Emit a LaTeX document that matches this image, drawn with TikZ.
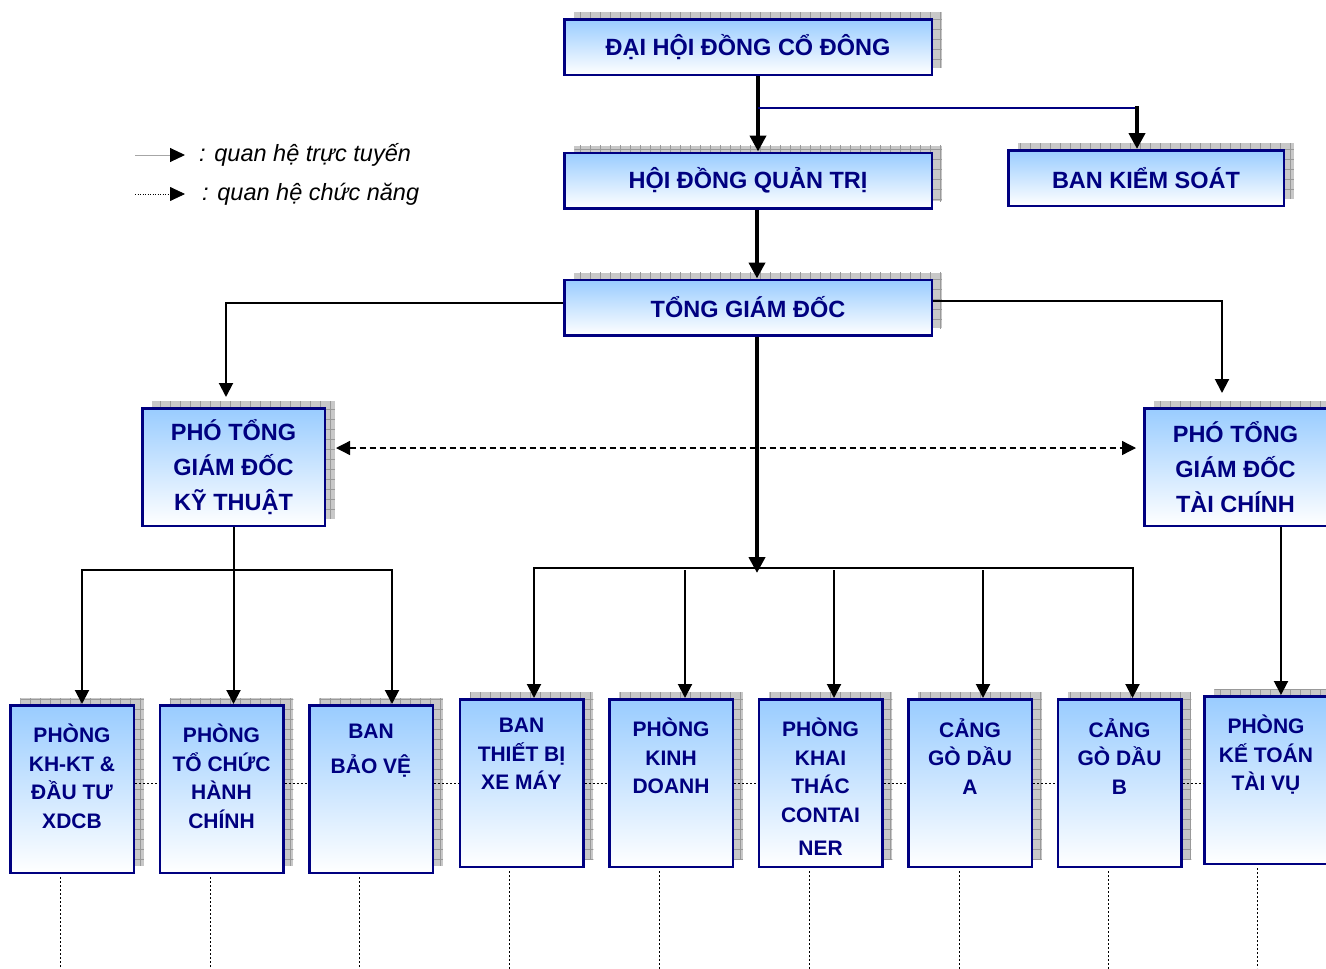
\documentclass[tikz,border=0pt]{standalone}
\usepackage{fontspec}
\setmainfont{Liberation Sans}
\usepackage{xcolor}
\usepackage{tikz}
\usetikzlibrary{positioning}
\usetikzlibrary{arrows.meta}
\usetikzlibrary{shadows}
\usetikzlibrary{patterns.meta}

\definecolor{boxnavy}{HTML}{000080}
\definecolor{boxblue}{HTML}{99CCFF}
\definecolor{shadowgray}{HTML}{C8C8C8}
\definecolor{gridgray}{HTML}{999999}

\begin{document}
\begin{tikzpicture}[x=1pt, y=1pt,
  box/.style={draw=boxnavy, line width=2.5pt, top color=boxblue, bottom color=white, text=boxnavy, align=center, inner sep=0pt,
    font=\bfseries\fontsize{23.5}{35}\selectfont,
    general shadow={shadow xshift=10pt, shadow yshift=7pt, fill=shadowgray},
    general shadow={shadow xshift=10pt, shadow yshift=7pt, pattern={Hatch[angle=0, distance=10pt, line width=0.7pt]}, pattern color=gridgray}},
  wide box/.style={box, minimum width=367.5pt, minimum height=55.5pt},
  chief box/.style={box, minimum width=182.5pt, minimum height=117.5pt},
  dept box/.style={box, minimum width=123.5pt, minimum height=167.5pt},
  dept text/.style={anchor=north, yshift=-20pt, inner sep=0pt, align=center, text=boxnavy,
    font=\bfseries\fontsize{21}{28.5}\selectfont, execute at begin node={\rule{0pt}{20pt}}},
  key text/.style={anchor=west, inner sep=0pt, font=\itshape\fontsize{23.5}{27}\selectfont},
  main arrow/.style={line width=4.5pt, -{Triangle[length=16pt, width=16pt]}},
  link/.style={line width=2pt, -{Triangle[length=14pt, width=14pt]}},
  navy line/.style={draw=boxnavy, line width=2.5pt},
  func line/.style={line width=0.8pt, dash pattern=on 2pt off 2pt},
  func arrow/.style={line width=1.3pt, dash pattern=on 6pt off 4pt, {Triangle[length=14pt, width=14pt]}-{Triangle[length=14pt, width=14pt]}},
  key line/.style={draw=gray!70, line width=1pt, -{Triangle[length=15pt, width=14pt, color=black]}},
  key dots/.style={line width=0.8pt, dash pattern=on 1pt off 1.5pt, -{Triangle[length=15pt, width=14pt, sep=0pt]}}]

\path [use as bounding box, fill=white] (0,0) rectangle (1326,-969);

\coordinate (solid start) at (135,-155);
\node (solid key) [key text] at (199,-155) {: quan hệ trực tuyến};
\coordinate (dotted start) at (135,-194);
\node (dotted key) [key text] at (202,-194) {: quan hệ chức năng};

\node (dai hoi) [wide box] at (748,-47) {ĐẠI HỘI ĐỒNG CỔ ĐÔNG};
\node (hoi dong) [wide box, below of=dai hoi, node distance=133.5pt] {HỘI ĐỒNG QUẢN TRỊ};
\node (kiem soat) [box, minimum width=275.5pt, minimum height=55.5pt] at (1146,-178) {BAN KIỂM SOÁT};
\node (tong gd) [wide box, below of=hoi dong, node distance=127pt] {TỔNG GIÁM ĐỐC};

\node (pho kt) [chief box] at (233.5,-467) {PHÓ TỔNG\\GIÁM ĐỐC\\KỸ THUẬT};
\node (pho tc) [chief box, right of=pho kt, node distance=1002pt] {PHÓ TỔNG\\GIÁM ĐỐC\\TÀI CHÍNH};

\node (kh kt) [dept box, label={[dept text]north:{PHÒNG\\KH-KT \&\\ĐẦU TƯ\\XDCB}}] at (72,-789) {};
\node (to chuc) [dept box, right of=kh kt, node distance=149.5pt, label={[dept text]north:{PHÒNG\\TỔ CHỨC\\HÀNH\\CHÍNH}}] {};
\node (bao ve) [dept box, right of=to chuc, node distance=149.5pt, label={[dept text]north:{BAN\\[6pt]BẢO VỆ}}] {};
\node (thiet bi) [dept box, label={[dept text]north:{BAN\\THIẾT BỊ\\XE MÁY}}] at (521.5,-783) {};
\node (kinh doanh) [dept box, right of=thiet bi, node distance=149.5pt, label={[dept text]north:{PHÒNG\\KINH\\DOANH}}] {};
\node (khai thac) [dept box, right of=kinh doanh, node distance=149.5pt, label={[dept text]north:{PHÒNG\\KHAI\\THÁC\\CONTAI\\[5pt]NER}}] {};
\node (cang a) [dept box, right of=khai thac, node distance=149.5pt, label={[dept text]north:{CẢNG\\GÒ DẦU\\A}}] {};
\node (cang b) [dept box, right of=cang a, node distance=149.5pt, label={[dept text]north:{CẢNG\\GÒ DẦU\\B}}] {};
\node (ke toan) [dept box, label={[dept text]north:{PHÒNG\\KẾ TOÁN\\TÀI VỤ}}] at (1266,-780) {};

\draw [key line] (solid start) -- ([xshift=-14pt]solid key.west);
\draw [key dots] (dotted start) -- ([xshift=-17pt]dotted key.west);

\draw [main arrow] ([xshift=10pt]dai hoi.south) -- ([xshift=10pt]hoi dong.north);
\draw [navy line] ([xshift=10pt]dai hoi.south) ++(0,-32) -- ++(379,0);
\draw [main arrow] ([xshift=-9pt, yshift=43pt]kiem soat.north) -- ([xshift=-9pt]kiem soat.north);
\draw [main arrow] ([xshift=9pt]hoi dong.south) -- ([xshift=9pt]tong gd.north);

\draw [link] ([yshift=4.5pt]tong gd.west) -| ([xshift=-7.5pt, yshift=10pt]pho kt.north);
\draw [link] ([yshift=6.5pt]tong gd.east) -| ([xshift=-13.5pt, yshift=14pt]pho tc.north);
\draw [func arrow] ([xshift=10pt, yshift=19pt]pho kt.east) -- ([xshift=-7pt, yshift=19pt]pho tc.west);

\draw [link] (pho kt.south) -- ++(0,-43) -| ([xshift=10pt]kh kt.north);
\draw [link] (pho kt.south) -- ++(0,-43) -| ([xshift=12pt]to chuc.north);
\draw [link] (pho kt.south) -- ++(0,-43) -| ([xshift=21pt]bao ve.north);

\draw [link] ([xshift=9pt]tong gd.south) -- ++(0,-231) -| ([xshift=12.5pt]thiet bi.north);
\draw [link] ([xshift=9pt]tong gd.south) -- ++(0,-231) -| ([xshift=13pt]cang b.north);
\draw [link] ([xshift=14pt, yshift=128pt]kinh doanh.north) -- ([xshift=14pt]kinh doanh.north);
\draw [link] ([xshift=13.5pt, yshift=128pt]khai thac.north) -- ([xshift=13.5pt]khai thac.north);
\draw [link] ([xshift=13pt, yshift=128pt]cang a.north) -- ([xshift=13pt]cang a.north);
\coordinate (bus drop) at (757,-573);
\draw [main arrow] ([xshift=9pt]tong gd.south) -- (bus drop);

\draw [link] ([xshift=45.5pt]pho tc.south) -- ([xshift=15pt]ke toan.north);

\draw [func line] (kh kt.east |- thiet bi) -- (to chuc.west |- thiet bi)
  (to chuc.east |- thiet bi) -- (bao ve.west |- thiet bi)
  (bao ve.east |- thiet bi) -- (thiet bi.west)
  (thiet bi.east) -- (kinh doanh.west)
  (kinh doanh.east) -- (khai thac.west)
  (khai thac.east) -- (cang a.west)
  (cang a.east) -- (cang b.west)
  (cang b.east) -- (ke toan.west |- thiet bi);

\draw [func line] ([xshift=-12pt, yshift=-3pt]kh kt.south) -- ++(0,-100);
\draw [func line] ([xshift=-11pt, yshift=-3pt]to chuc.south) -- ++(0,-100);
\draw [func line] ([xshift=-12pt, yshift=-3pt]bao ve.south) -- ++(0,-100);
\draw [func line] ([xshift=-12.5pt, yshift=-3pt]thiet bi.south) -- ++(0,-100);
\draw [func line] ([xshift=-12pt, yshift=-3pt]kinh doanh.south) -- ++(0,-100);
\draw [func line] ([xshift=-11.5pt, yshift=-3pt]khai thac.south) -- ++(0,-100);
\draw [func line] ([xshift=-11pt, yshift=-3pt]cang a.south) -- ++(0,-100);
\draw [func line] ([xshift=-11.5pt, yshift=-3pt]cang b.south) -- ++(0,-100);
\draw [func line] ([xshift=-9pt, yshift=-3pt]ke toan.south) -- ++(0,-100);

\end{tikzpicture}
\end{document}
